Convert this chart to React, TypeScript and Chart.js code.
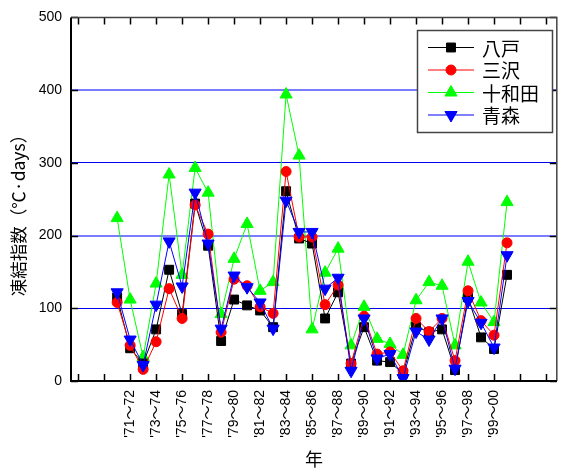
import React, { useEffect, useRef } from 'react';
import { Chart, registerables } from 'chart.js';
import { drawPoint } from 'chart.js/helpers';

Chart.register(...registerables);

const years = [
  1970, 1971, 1972, 1973, 1974, 1975, 1976, 1977, 1978, 1979,
  1980, 1981, 1982, 1983, 1984, 1985, 1986, 1987, 1988, 1989,
  1990, 1991, 1992, 1993, 1994, 1995, 1996, 1997, 1998, 1999, 2000,
];
const hachinohe = [115, 45, 24, 71, 153, 92, 244, 186, 55, 112, 104, 97, 74, 261, 196, 189, 86, 122, 24, 74, 28, 26, 10, 75, 67, 71, 15, 115, 60, 44, 146];
const misawa = [108, 49, 16, 54, 127, 86, 242, 202, 67, 140, 131, 102, 93, 288, 198, 198, 105, 132, 24, 89, 37, 40, 14, 86, 68, 86, 28, 124, 83, 63, 190];
const towada = [224, 112, 33, 134, 284, 146, 293, 259, 92, 168, 216, 124, 136, 394, 310, 71, 149, 182, 49, 102, 58, 51, 36, 111, 136, 131, 49, 164, 108, 81, 246];
const aomori = [122, 57, 22, 105, 192, 130, 259, 189, 72, 145, 129, 108, 72, 248, 205, 205, 127, 142, 14, 86, 31, 37, 4, 68, 57, 86, 17, 110, 80, 46, 173];

const xTickValues = [1967, 1969, 1971, 1973, 1975, 1977, 1979, 1981, 1983, 1985, 1987, 1989, 1991, 1993, 1995, 1997, 1999, 2001, 2003];
const xTickLabels = ['', '', "'71～72", "'73～74", "'75～76", "'77～78", "'79～80", "'81～82", "'83～84", "'85～86", "'87～88", "'89～90", "'91～92", "'93～94", "'95～96", "'97～98", "'99～00", '', ''];
const yTickValues = [0, 100, 200, 300, 400, 500];
const yTitle = '凍結指数（℃·days）';

const seriesNames = ['八戸', '三沢', '十和田', '青森'];
const seriesValues = [hachinohe, misawa, towada, aomori];
const seriesColors = ['#000000', '#ff0000', '#00ff00', '#0000ff'];
const seriesStyles = ['rect', 'circle', 'triangle', 'triangle'];
const seriesRotations = [0, 0, 0, 180];
const seriesRadius = [6.3, 5, 7, 7];
const seriesOrder = [2, 1, 3, 0];

const framePlugin = {
  id: 'frameTicks',
  afterDraw(chart: any) {
    const { ctx, chartArea } = chart;
    const { left, right, top, bottom } = chartArea;
    const xs = chart.scales.x;
    const ys = chart.scales.y;
    ctx.save();
    // ticks
    ctx.strokeStyle = '#000';
    ctx.lineWidth = 1.5;
    const tl = 7;
    xTickValues.forEach((v) => {
      const px = Math.round(xs.getPixelForValue(v)) + 0.5;
      ctx.beginPath();
      ctx.moveTo(px, bottom);
      ctx.lineTo(px, bottom - tl);
      ctx.moveTo(px, top);
      ctx.lineTo(px, top + tl);
      ctx.stroke();
    });
    yTickValues.forEach((v) => {
      const py = Math.round(ys.getPixelForValue(v)) + 0.5;
      ctx.beginPath();
      ctx.moveTo(left, py);
      ctx.lineTo(left + tl, py);
      ctx.moveTo(right, py);
      ctx.lineTo(right - tl, py);
      ctx.stroke();
    });
    // frame
    ctx.lineWidth = 1.5;
    ctx.strokeStyle = '#444';
    ctx.beginPath();
    ctx.moveTo(left, top);
    ctx.lineTo(right, top);
    ctx.lineTo(right, bottom);
    ctx.stroke();
    ctx.lineWidth = 2;
    ctx.strokeStyle = '#000';
    ctx.beginPath();
    ctx.moveTo(left, top);
    ctx.lineTo(left, bottom);
    ctx.lineTo(right, bottom);
    ctx.stroke();

    // y-axis title
    ctx.save();
    ctx.translate(18, 211);
    ctx.rotate(-Math.PI / 2);
    ctx.fillStyle = '#000';
    ctx.font = '17.5px "Noto Sans CJK JP", sans-serif';
    ctx.textAlign = 'center';
    ctx.textBaseline = 'middle';
    ctx.fillText(yTitle, 0, 0);
    ctx.restore();

    // legend
    const bx = 417.5, by = 30.5, bw = 135, bh = 102;
    ctx.fillStyle = '#fff';
    ctx.fillRect(bx, by, bw, bh);
    ctx.lineWidth = 1.5;
    ctx.strokeStyle = '#444';
    ctx.strokeRect(bx, by, bw, bh);
    const rowY = [47.5, 70, 92.5, 115];
    chart.data.datasets.forEach((ds: any, i: number) => {
      const y = rowY[i];
      ctx.strokeStyle = ds.borderColor;
      ctx.lineWidth = 1;
      ctx.beginPath();
      ctx.moveTo(428, y);
      ctx.lineTo(474, y);
      ctx.stroke();
      ctx.fillStyle = ds.pointBackgroundColor;
      ctx.strokeStyle = ds.pointBorderColor;
      drawPoint(ctx, {
        pointStyle: ds.pointStyle,
        rotation: ds.pointRotation,
        radius: ds.pointRadius,
        borderWidth: 1,
      } as any, 451, y);
      ctx.fillStyle = '#000';
      ctx.font = '19px "Noto Sans CJK JP", sans-serif';
      ctx.textAlign = 'left';
      ctx.textBaseline = 'middle';
      ctx.fillText(ds.label, 482, y + 1);
    });
    ctx.restore();
  },
};

export default function App() {
  const canvasRef = useRef<HTMLCanvasElement | null>(null);

  useEffect(() => {
    if (!canvasRef.current) return;
    const datasets = seriesNames.map((name, i) => ({
      label: name,
      data: years.map((yr, j) => ({ x: yr, y: seriesValues[i][j] })),
      borderColor: seriesColors[i],
      backgroundColor: seriesColors[i],
      pointBackgroundColor: seriesColors[i],
      pointBorderColor: seriesColors[i],
      pointStyle: seriesStyles[i],
      pointRotation: seriesRotations[i],
      pointRadius: seriesRadius[i],
      pointBorderWidth: 1,
      borderWidth: 1,
      tension: 0,
      fill: false,
      order: seriesOrder[i],
    }));

    const chart = new Chart(canvasRef.current, {
      type: 'line',
      data: { datasets },
      plugins: [framePlugin],
      options: {
        animation: false,
        responsive: true,
        maintainAspectRatio: false,
        layout: { padding: { top: 15, right: 2, left: 0, bottom: 0 } },
        plugins: {
          legend: { display: false },
          tooltip: { enabled: false },
        },
        scales: {
          x: {
            type: 'linear',
            min: 1966.45,
            max: 2003.83,
            afterBuildTicks: (scale: any) => {
              scale.ticks = xTickValues.map((v) => ({ value: v }));
            },
            afterFit: (scale: any) => {
              scale.height = 89;
            },
            grid: { display: false, drawTicks: false },
            border: { display: false },
            ticks: {
              autoSkip: false,
              minRotation: 90,
              maxRotation: 90,
              padding: 9,
              color: '#000',
              font: { size: 14, family: '"Liberation Sans", Arial, "Noto Sans CJK JP", sans-serif' },
              callback: (value: any) => {
                const idx = xTickValues.indexOf(Number(value));
                return idx >= 0 ? xTickLabels[idx] : '';
              },
            },
            title: {
              display: true,
              text: '年',
              color: '#000',
              padding: { top: 0, bottom: 0 },
              font: { size: 18, family: '"Noto Sans CJK JP", sans-serif' },
            },
          },
          y: {
            type: 'linear',
            min: 0,
            max: 500,
            afterFit: (scale: any) => {
              scale.width = 71;
            },
            grid: {
              drawTicks: false,
              lineWidth: (c: any) => (c.tick && (c.tick.value === 200 || c.tick.value === 400) ? 2 : 1),
              color: (c: any) => {
                const v = c.tick ? c.tick.value : 0;
                if (v === 0 || v === 500) return 'rgba(0,0,0,0)';
                return v === 200 || v === 400 ? '#7b7bff' : '#0000ee';
              },
            },
            border: { display: false },
            ticks: {
              stepSize: 100,
              padding: 9,
              color: '#000',
              font: { size: 14, family: '"Liberation Sans", Arial, sans-serif' },
            },
            title: { display: false },
          },
        },
      },
    });
    return () => chart.destroy();
  }, []);

  return (
    <div style={{ position: 'absolute', left: 0, top: 0, width: 572, height: 470, background: '#fff' }}>
      <canvas ref={canvasRef} />
    </div>
  );
}
